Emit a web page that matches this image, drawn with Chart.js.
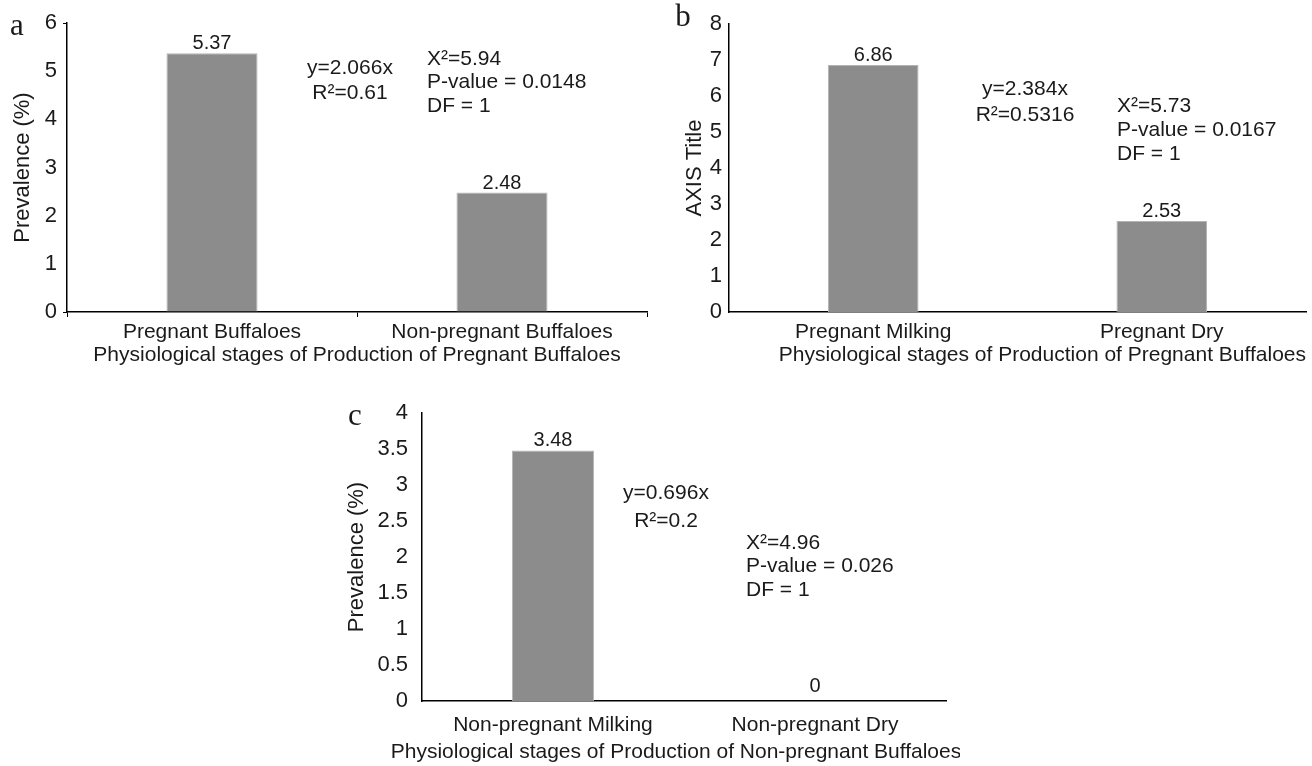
<!DOCTYPE html>
<html>
<head>
<meta charset="utf-8">
<script src="https://cdn.jsdelivr.net/npm/chart.js@4.4.0/dist/chart.umd.min.js"></script>
<style>
  body { margin: 0; background: #fff; }
  canvas { position: absolute; }
</style>
</head>
<body>
<canvas id="chartA" width="660" height="372" style="left:0;top:0"></canvas>
<canvas id="chartB" width="662" height="372" style="left:650px;top:0"></canvas>
<canvas id="chartC" width="630" height="381" style="left:330px;top:385px"></canvas>
<script>
// panel a
const labelsA = ['Pregnant Buffaloes', 'Non-pregnant Buffaloes'];
const valuesA = [5.37, 2.48];
const ticksA = [0, 1, 2, 3, 4, 5, 6];
const eqA = ['y=2.066x', 'R\u00b2=0.61'];
const statsA = ['X\u00b2=5.94', 'P-value = 0.0148', 'DF = 1'];

// panel b
const labelsB = ['Pregnant Milking', 'Pregnant Dry'];
const valuesB = [6.86, 2.53];
const ticksB = [0, 1, 2, 3, 4, 5, 6, 7, 8];
const eqB = ['y=2.384x', 'R\u00b2=0.5316'];
const statsB = ['X\u00b2=5.73', 'P-value = 0.0167', 'DF = 1'];

// panel c
const labelsC = ['Non-pregnant Milking', 'Non-pregnant Dry'];
const valuesC = [3.48, 0];
const ticksC = [0, 0.5, 1, 1.5, 2, 2.5, 3, 3.5, 4];
const eqC = ['y=0.696x', 'R\u00b2=0.2'];
const statsC = ['X\u00b2=4.96', 'P-value = 0.026', 'DF = 1'];

const FONT = '"Liberation Sans", Arial, sans-serif';
const INK = '#1a1a1a';

const barValueLabels = {
  id: 'barValueLabels',
  afterDatasetsDraw(chart) {
    const ctx = chart.ctx;
    const meta = chart.getDatasetMeta(0);
    ctx.save();
    ctx.font = '20px ' + FONT;
    ctx.fillStyle = INK;
    ctx.textAlign = 'center';
    ctx.textBaseline = 'alphabetic';
    meta.data.forEach((bar, i) => {
      const v = chart.data.datasets[0].data[i];
      ctx.fillText(String(v), bar.x, bar.y - (v === 0 ? 9 : 4));
    });
    ctx.restore();
  }
};

const panelNotes = {
  id: 'panelNotes',
  afterDraw(chart, args, opts) {
    const ctx = chart.ctx;
    const area = chart.chartArea;
    ctx.save();
    ctx.fillStyle = INK;
    ctx.font = '21px ' + FONT;
    ctx.textBaseline = 'middle';
    (opts.blocks || []).forEach(b => {
      ctx.textAlign = b.align;
      b.lines.forEach((t, i) => {
        ctx.fillText(t, area.left + b.dx, area.top + b.dy + i * b.lh);
      });
    });
    // wide axis title that should not be squeezed to the plot width
    if (opts.axisTitle) {
      ctx.textAlign = 'center';
      ctx.fillText(opts.axisTitle.text, (area.left + area.right) / 2 + opts.axisTitle.dx, opts.axisTitle.y);
    }
    ctx.font = '31px "Liberation Serif", "Times New Roman", serif';
    ctx.textAlign = 'center';
    ctx.textBaseline = 'alphabetic';
    ctx.fillText(opts.letter, opts.letterX, opts.letterY);
    ctx.restore();
  }
};

function makeChart(id, p) {
  const yTicks = p.yTicks;
  new Chart(document.getElementById(id), {
    type: 'bar',
    data: {
      labels: p.labels,
      datasets: [{
        data: p.values,
        backgroundColor: '#8c8c8c',
        borderColor: '#b4b4b4',
        borderWidth: 1,
        categoryPercentage: 1,
        barPercentage: 0.314
      }]
    },
    options: {
      responsive: false,
      animation: false,
      layout: { padding: p.padding },
      plugins: {
        legend: { display: false },
        tooltip: { enabled: false },
        panelNotes: p.notes
      },
      scales: {
        x: {
          afterFit: s => { s.height = p.xHeight; },
          border: { display: true, color: '#000', width: 1.5 },
          grid: {
            display: p.xTickMarks,
            drawOnChartArea: false,
            drawTicks: p.xTickMarks,
            offset: true,
            tickLength: 5,
            color: '#000'
          },
          ticks: { color: INK, font: { family: FONT, size: 21 }, padding: p.xTickPad, maxRotation: 0 },
          title: {
            display: !!p.xTitle,
            text: p.xTitle,
            color: INK,
            align: p.xTitleAlign,
            font: { family: FONT, size: 21 },
            padding: { top: 0, bottom: p.xTitlePad }
          }
        },
        y: {
          min: yTicks[0],
          max: yTicks[yTicks.length - 1],
          afterFit: s => { s.width = p.yWidth; },
          afterBuildTicks: s => { s.ticks = yTicks.map(v => ({ value: v })); },
          border: { display: true, color: '#000', width: 1.5 },
          grid: {
            display: p.yTickMarks,
            drawOnChartArea: false,
            drawTicks: p.yTickMarks,
            tickLength: 4,
            color: c => (c.tick && (c.tick.value === yTicks[0] || c.tick.value === yTicks[yTicks.length - 1])) ? '#000' : 'rgba(0,0,0,0)'
          },
          ticks: {
            color: INK,
            font: { family: FONT, size: 22 },
            padding: p.yTickPad,
            callback: v => String(v)
          },
          title: {
            display: true,
            text: p.yTitle,
            color: INK,
            font: { family: FONT, size: 22 },
            padding: { top: p.yTitlePad, bottom: 0 }
          }
        }
      }
    },
    plugins: [barValueLabels, panelNotes]
  });
}

makeChart('chartA', {
  labels: labelsA, values: valuesA, yTicks: ticksA,
  padding: { top: 23, right: 13, left: 0, bottom: 0 },
  xHeight: 60, yWidth: 67,
  xTickMarks: true, yTickMarks: true,
  xTickPad: 3, yTickPad: 6,
  xTitle: 'Physiological stages of Production of Pregnant Buffaloes', xTitleAlign: 'center', xTitlePad: 4,
  yTitle: 'Prevalence (%)', yTitlePad: 10,
  notes: {
    letter: 'a', letterX: 17, letterY: 35,
    blocks: [
      { lines: eqA, align: 'center', dx: 283, dy: 45, lh: 25 },
      { lines: statsA, align: 'left', dx: 360, dy: 36, lh: 23.5 }
    ]
  }
});

makeChart('chartB', {
  labels: labelsB, values: valuesB, yTicks: ticksB,
  padding: { top: 24, right: 6, left: 0, bottom: 0 },
  xHeight: 60, yWidth: 79,
  xTickMarks: false, yTickMarks: false,
  xTickPad: 8, yTickPad: 7,
  xTitle: 'Physiological stages of Production of Pregnant Buffaloes', xTitleAlign: 'end', xTitlePad: 4,
  yTitle: 'AXIS Title', yTitlePad: 32,
  notes: {
    letter: 'b', letterX: 33, letterY: 26,
    blocks: [
      { lines: eqB, align: 'center', dx: 296, dy: 65, lh: 26 },
      { lines: statsB, align: 'left', dx: 388, dy: 82, lh: 24 }
    ]
  }
});

makeChart('chartC', {
  labels: labelsC, values: valuesC, yTicks: ticksC,
  padding: { top: 28, right: 14, left: 0, bottom: 0 },
  xHeight: 65, yWidth: 92,
  xTickMarks: false, yTickMarks: false,
  xTickPad: 12, yTickPad: 14,
  xTitle: '', xTitleAlign: 'center', xTitlePad: 1,
  yTitle: 'Prevalence (%)', yTitlePad: 14,
  notes: {
    letter: 'c', letterX: 25, letterY: 40,
    axisTitle: { text: 'Physiological stages of Production of Non-pregnant Buffaloes', dx: -8, y: 367 },
    blocks: [
      { lines: eqC, align: 'center', dx: 244, dy: 80, lh: 28 },
      { lines: statsC, align: 'left', dx: 324, dy: 130, lh: 23.5 }
    ]
  }
});
</script>
</body>
</html>
